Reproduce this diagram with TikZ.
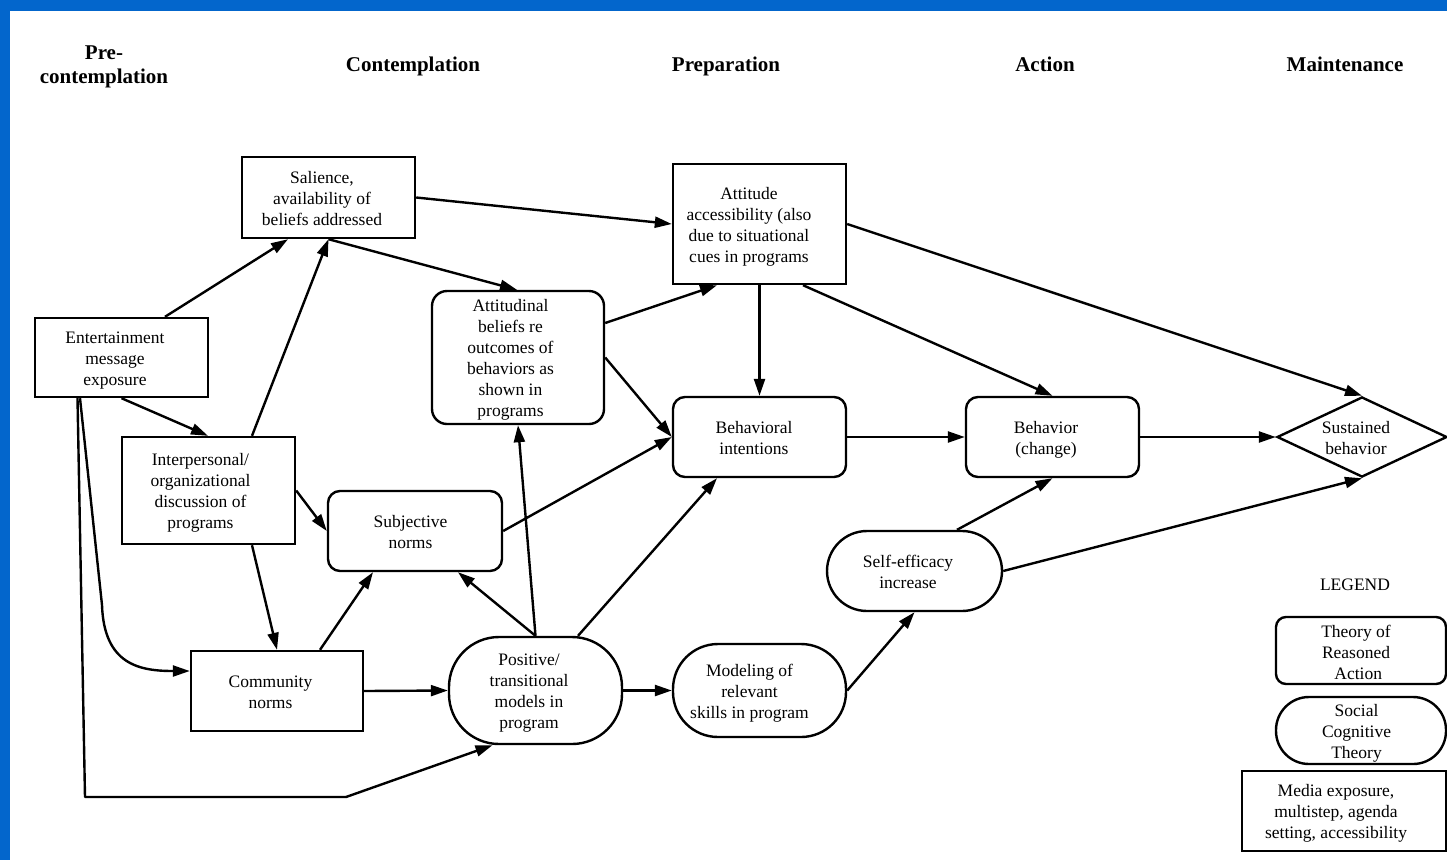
\documentclass[tikz,border=0pt]{standalone}
\usepackage{fontspec}
\setmainfont{Liberation Serif}
\usetikzlibrary{arrows.meta,shapes.geometric}
\definecolor{frameblue}{HTML}{0366CC}
\newcommand{\boxtxt}[2][13pt]{\raisebox{-2.5pt}[\height][\depth]{\begin{tabular}{@{}c@{\hspace{#1}}}#2\end{tabular}}}
\begin{document}
\begin{tikzpicture}[x=1pt,y=-1pt,
  font=\fontsize{17.5}{21}\selectfont,
  base/.style={draw, line width=2.4pt, align=center, inner sep=1pt, fill=white},
  sqbox/.style={base, rectangle},
  rbox/.style={base, rectangle, rounded corners=12pt},
  pill/.style={base, rectangle, rounded corners=#1},
  diam/.style={base, diamond, aspect=2.1, inner sep=0pt},
  hdr/.style={font=\fontsize{21}{24}\selectfont\bfseries, align=center},
  conn/.style={-{Triangle[length=17pt,width=11pt]}, line width=2.4pt, line join=round},
  sz/.style 2 args={minimum width=#1pt, minimum height=#2pt}]
\useasboundingbox (0,0) rectangle (1447,860);
\fill[frameblue] (0,0) rectangle (1447,860);
\fill[white] (10,11) rectangle (1447,860);

% headers
\node[hdr] (h1) at (104,67) {Pre-\\contemplation};
\node[hdr] (h2) at (413,66) {Contemplation};
\node[hdr] (h3) at (726,66) {Preparation};
\node[hdr] (h4) at (1045,64) {Action};
\node[hdr] (h5) at (1345,64) {Maintenance};

% nodes
\node[sqbox, sz={173}{79}] (ent) at (121.5,357.5) {\boxtxt{Entertainment\\message\\exposure}};
\node[sqbox, sz={173}{81}] (sal) at (328.5,197.5) {\boxtxt{Salience,\\availability of\\beliefs addressed}};
\node[sqbox, sz={173}{120}] (att) at (759.5,224) {\boxtxt[21pt]{Attitude\\accessibility (also\\due to situational\\cues in programs}};
\node[rbox, rounded corners=15pt, sz={172}{133}] (atb) at (518,357.5) {\boxtxt[15pt]{Attitudinal\\beliefs re\\outcomes of\\behaviors as\\shown in\\programs}};
\node[sqbox, sz={173}{107}] (inter) at (208.5,490.5) {\boxtxt[16pt]{Interpersonal/\\organizational\\discussion of\\programs}};
\node[rbox, sz={174}{80}] (subj) at (415,531) {\boxtxt[9pt]{Subjective\\norms}};
\node[sqbox, sz={172}{80}] (comm) at (277,691) {\boxtxt{Community\\norms}};
\node[pill=50pt, sz={173}{107}] (pos) at (535.5,690.5) {\boxtxt{Positive/\\transitional\\models in\\program}};
\node[pill=45pt, sz={173}{93}] (mod) at (759.5,690.5) {\boxtxt[20pt]{Modeling of\\relevant\\skills in program}};
\node[rbox, sz={173}{80}] (bint) at (759.5,437) {\boxtxt[11pt]{Behavioral\\intentions}};
\node[rbox, sz={173}{80}] (beh) at (1052.5,437) {\boxtxt{Behavior\\(change)}};
\node[pill=40pt, sz={175}{80}] (self) at (914.5,571) {\boxtxt{Self-efficacy\\increase}};
\node[diam, sz={170}{80}] (sust) at (1362,437) {\boxtxt[12pt]{Sustained\\behavior}};

% legend
\node (leg) at (1355,585) {LEGEND};
\node[rbox, rounded corners=10pt, sz={170}{67}] (tra) at (1361,650.5) {\raisebox{-1.5pt}[\height][\depth]{\boxtxt[10pt]{Theory of\\Reasoned\\ \ Action}}};
\node[pill=33pt, sz={170}{67}] (sct) at (1361,730.5) {\boxtxt[9pt]{Social\\Cognitive\\Theory}};
\node[sqbox, sz={204}{80}] (med) at (1344,811) {\boxtxt[16pt]{Media exposure,\\multistep, agenda\\setting, accessibility}};

% connectors
\draw[conn] ([xshift=43.5pt]ent.north) -- ([xshift=-40.5pt]sal.south);
\draw[conn] ([xshift=43.5pt]inter.north) -- (sal.south);
\draw[conn] (sal.south) -- ([xshift=-1pt]atb.north);
\draw[conn] (sal.east) -- (att.west);
\draw[conn] ([yshift=34.5pt]atb.east) -- ([xshift=-42.5pt]att.south);
\draw[conn] (atb.east) -- (bint.west);
\draw[conn] (att.south) -- (bint.north);
\draw[conn] ([xshift=43.5pt]att.south) -- (beh.north);
\draw[conn] (att.east) -- (sust.north);
\draw[conn] (bint.east) -- (beh.west);
\draw[conn] (beh.east) -- (sust.west);
\draw[conn] ([xshift=42.5pt]self.north) -- (beh.south);
\draw[conn] (self.east) -- (sust.south);
\draw[conn] (mod.east) -- (self.south);
\draw[conn] (pos.east) -- (mod.west);
\draw[conn] ([xshift=42.5pt]pos.north) -- ([xshift=-42.5pt]bint.south);
\draw[conn] (pos.north) -- (atb.south);
\draw[conn] (pos.north) -- ([xshift=43pt]subj.south);
\draw[conn] (subj.east) -- (bint.west);
\draw[conn] ([xshift=43pt]comm.north) -- ([xshift=-42pt]subj.south);
\draw[conn] (comm.east) -- (pos.west);
\draw[conn] (inter.east) -- (subj.west);
\draw[conn] ([xshift=43.5pt]inter.south) -- (comm.north);
\draw[conn] (ent.south) -- ([xshift=-0.5pt]inter.north);

\coordinate (k1) at (102,605);
\coordinate (c1) at (104,665);
\coordinate (c2) at (140,671);
\draw[conn] ([xshift=-41.5pt]ent.south) -- (k1) .. controls (c1) and (c2) .. ([yshift=20pt]comm.west);

\coordinate (k2) at (85,797);
\coordinate (k3) at (346,797);
\draw[conn] ([xshift=-44pt]ent.south) -- (k2) -- (k3) -- ([xshift=-43pt]pos.south);
\end{tikzpicture}
\end{document}
